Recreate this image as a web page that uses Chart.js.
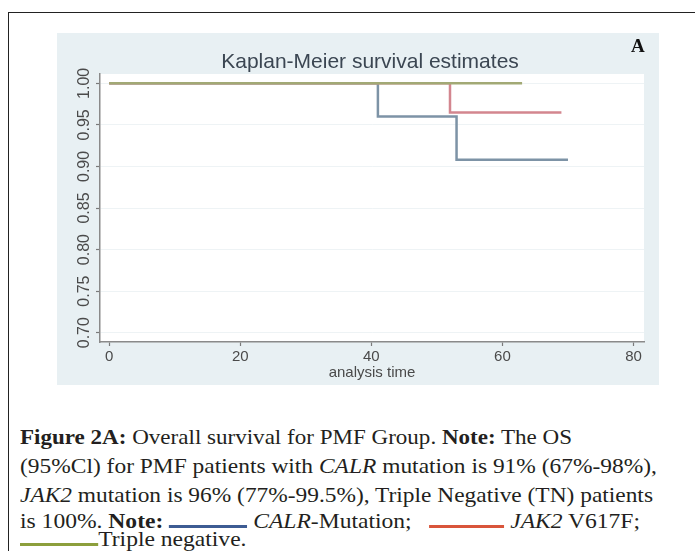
<!DOCTYPE html>
<html>
<head>
<meta charset="utf-8">
<script src="https://cdn.jsdelivr.net/npm/chart.js@4.4.1/dist/chart.umd.min.js"></script>
<style>
  html, body { margin: 0; padding: 0; background: #ffffff; }
  body { width: 695px; height: 551px; position: relative; overflow: hidden; }
  #frame { position: absolute; left: 8px; top: 12px; width: 720px; height: 600px;
           border-left: 1.5px solid #222; border-top: 1.5px solid #222; }
  #panel { position: absolute; left: 57px; top: 33px; width: 602px; height: 352px; background: #e8f0f3; }
  #panel canvas { position: absolute; left: 0; top: 0; }
  #letterA { position: absolute; left: 631px; top: 35px; font-family: "Liberation Serif", serif;
             font-weight: bold; font-size: 19px; color: #111; }
  .cap { position: absolute; left: 20px; white-space: nowrap; font-family: "Liberation Serif", serif;
         font-size: 22px; color: #231f20; line-height: 24px; transform-origin: 0 50%; }
  .cap b { font-weight: bold; }
  .seg { display: inline-block; height: 0; vertical-align: baseline; }
</style>
</head>
<body>
<div id="frame"></div>
<div id="panel"><canvas id="c" width="602" height="352"></canvas></div>
<div id="letterA">A</div>
<div class="cap" data-w="552" style="top:425px"><b>Figure 2A:</b> Overall survival for PMF Group. <b>Note:</b> The OS</div>
<div class="cap" data-w="637" style="top:454px">(95%Cl) for PMF patients with <i>CALR</i> mutation is 91% (67%-98%),</div>
<div class="cap" data-w="633" style="top:483px"><i>JAK2</i> mutation is 96% (77%-99.5%), Triple Negative (TN) patients</div>
<div class="cap" id="l4" data-w="620" style="top:509px">is 100%. <b>Note:</b> <span class="seg" style="width:73px;border-bottom:3px solid #3d5c93"></span> <i>CALR</i>-Mutation;&nbsp;&nbsp; <span class="seg" style="width:70px;border-bottom:3px solid #d9553b"></span> <i>JAK2</i> V617F;</div>
<div class="cap" id="l5" style="top:527px"><span class="seg" style="width:73px;border-bottom:3px solid #8c9f3c"></span>Triple negative.</div>
<script>
// ---- data ----
const chartTitle = "Kaplan-Meier survival estimates";
const xAxisTitle = "analysis time";
const xTicks = [0, 20, 40, 60, 80];
const yTicks = [0.70, 0.75, 0.80, 0.85, 0.90, 0.95, 1.00];

const calrTime = [0, 41, 53, 70];
const calrSurv = [1.00, 0.960, 0.908, 0.908];

const jak2Time = [0, 52, 69];
const jak2Surv = [1.00, 0.965, 0.965];

const tnTime = [0, 63];
const tnSurv = [1.00, 1.00];

function pts(t, s) { return t.map((v, i) => ({ x: v, y: s[i] })); }

const plotBg = {
  id: 'plotBg',
  beforeDraw(chart) {
    const { ctx, chartArea: a } = chart;
    ctx.save();
    ctx.fillStyle = '#ffffff';
    ctx.fillRect(a.left, a.top, a.right - a.left, a.bottom - a.top);
    ctx.restore();
  },
  afterDraw(chart) {
    const { ctx, chartArea: a } = chart;
    ctx.save();
    ctx.fillStyle = '#3b4652';
    ctx.font = '21px "Liberation Sans", Arial, sans-serif';
    ctx.textAlign = 'center';
    ctx.textBaseline = 'middle';
    ctx.fillText(chartTitle, (a.left + a.right) / 2 - 2, 29);
    ctx.restore();
  }
};

new Chart(document.getElementById('c'), {
  type: 'line',
  data: {
    datasets: [
      { label: 'Triple negative', data: pts(tnTime, tnSurv), borderColor: '#a2a975', order: 0 },
      { label: 'JAK2 V617F', data: pts(jak2Time, jak2Surv), borderColor: '#d3868f', order: 1 },
      { label: 'CALR-Mutation', data: pts(calrTime, calrSurv), borderColor: '#7d93a6', order: 2 }
    ]
  },
  options: {
    responsive: false,
    animation: false,
    devicePixelRatio: 1,
    elements: {
      line: { stepped: true, borderWidth: 2.5, tension: 0, fill: false },
      point: { radius: 0, hoverRadius: 0 }
    },
    layout: { padding: { top: 41, right: 15, bottom: 0, left: 0 } },
    plugins: {
      legend: { display: false },
      tooltip: { enabled: false },
      title: { display: false }
    },
    scales: {
      x: {
        type: 'linear', min: -1.4, max: 81.6,
        afterBuildTicks(s) { s.ticks = xTicks.map(v => ({ value: v })); },
        afterFit(s) { s.height = 43; },
        grid: { drawOnChartArea: false, drawTicks: true, tickLength: 4, tickColor: '#7a7a7a', tickWidth: 1.2 },
        border: { display: true, color: '#8a8a8a', width: 1.5 },
        ticks: { color: '#4a4a4a', font: { family: 'Liberation Sans', size: 15 }, padding: 2, maxRotation: 0 },
        title: { display: true, text: xAxisTitle, color: '#4a4a4a',
                 font: { family: 'Liberation Sans', size: 15 }, padding: { top: 0, bottom: 3 } }
      },
      y: {
        type: 'linear', min: 0.6888, max: 1.0112,
        afterBuildTicks(s) { s.ticks = yTicks.map(v => ({ value: v })); },
        afterFit(s) { s.width = 43; },
        grid: { color: '#eef3f5', lineWidth: 1, drawTicks: true, tickLength: 4, tickColor: '#7a7a7a', tickWidth: 1.2 },
        border: { display: true, color: '#8a8a8a', width: 1.5 },
        ticks: {
          color: '#4a4a4a', font: { family: 'Liberation Sans', size: 16 },
          minRotation: 90, maxRotation: 90, crossAlign: 'center', padding: -4.5,
          callback: v => v.toFixed(2)
        }
      }
    }
  },
  plugins: [plotBg]
});

// stretch caption lines horizontally to the widths seen in the reference
let lastScale = 1;
document.querySelectorAll('.cap').forEach(el => {
  const w = el.getBoundingClientRect().width;
  let s = lastScale;
  if (el.dataset.w && w > 0) s = parseFloat(el.dataset.w) / w;
  lastScale = s;
  el.style.transform = 'scaleX(' + s.toFixed(4) + ')';
});
</script>
</body>
</html>
